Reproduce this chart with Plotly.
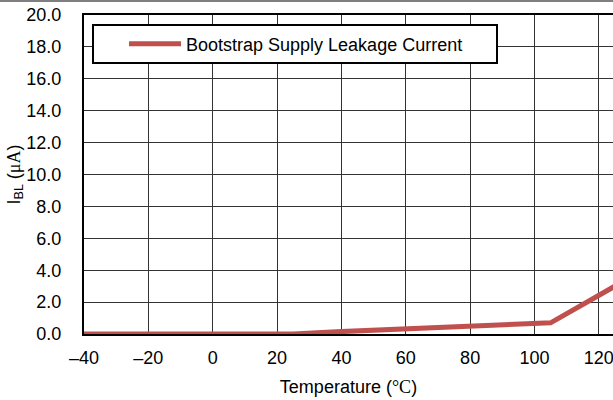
import plotly.graph_objects as go

temps = [-40, -20, 0, 25, 40, 60, 80, 105, 125]
leak_ua = [0.0, 0.0, 0.0, 0.0, 0.15, 0.33, 0.5, 0.7, 3.0]
x_ticks = [-40, -20, 0, 20, 40, 60, 80, 100, 120]
x_tick_text = ["\u201340", "\u201320", "0", "20", "40", "60", "80", "100", "120"]
y_ticks = [0, 2, 4, 6, 8, 10, 12, 14, 16, 18, 20]
y_tick_text = [f"{v:.1f}" for v in y_ticks]
series_name = "Bootstrap Supply Leakage Current"

W, H = 613, 400
ML, MR, MT, MB = 84, 0, 15, 66
pw = W - ML - MR
ph = H - MT - MB

def px_x(p):
    return (p - ML) / pw

def px_y(p):
    return 1 - (p - MT) / ph

fig = go.Figure()
fig.add_trace(go.Scatter(
    x=temps, y=leak_ua, mode="lines", name=series_name,
    line=dict(color="#C0504D", width=5), cliponaxis=True,
))

SANS = "Liberation Sans, Arial, sans-serif"
SERIF = "Liberation Serif, Times New Roman, serif"
font = dict(family=SANS, size=18, color="black")

fig.update_layout(
    width=W, height=H,
    margin=dict(l=ML, r=MR, t=MT, b=MB, autoexpand=False),
    paper_bgcolor="white", plot_bgcolor="white",
    font=font,
    showlegend=True,
    legend=dict(
        x=px_x(296), y=px_y(44), xanchor="center", yanchor="middle",
        bgcolor="rgba(0,0,0,0)", borderwidth=0,
        font=dict(family=SANS, size=18, color="black"),
        itemwidth=52,
    ),
    xaxis=dict(
        range=[-40, 124.4], tickvals=x_ticks, ticktext=x_tick_text,
        showgrid=True, gridcolor="#333333", gridwidth=1,
        showline=True, linecolor="black", linewidth=2, mirror=True,
        zeroline=False, ticks="", ticklabelstandoff=6, automargin=False,
        ticklabeloverflow="allow",
        title=dict(text=f"Temperature (<span style='font-family:{SERIF}'>\u00b0C</span>)",
                   font=dict(size=18), standoff=14),
        tickfont=dict(size=18),
    ),
    yaxis=dict(
        range=[0, 20], tickvals=y_ticks, ticktext=y_tick_text,
        showgrid=True, gridcolor="#333333", gridwidth=1,
        showline=True, linecolor="black", linewidth=2, mirror=False,
        zeroline=False, ticks="", ticklabelstandoff=17, automargin=False,
        title=dict(text=f"I<sub>BL</sub> (<span style='font-family:{SERIF}'>\u03bcA</span>)",
                   font=dict(size=18), standoff=1),
        tickfont=dict(size=18),
    ),
    shapes=[
        dict(type="rect", xref="paper", yref="paper",
             x0=px_x(93), x1=px_x(497), y0=px_y(63), y1=px_y(25),
             line=dict(color="black", width=2), fillcolor="white", layer="above"),
        dict(type="line", xref="paper", yref="paper",
             x0=px_x(0), x1=1, y0=px_y(1), y1=px_y(1),
             line=dict(color="black", width=1)),
    ],
)

fig.write_html(
    "out.html",
    config={"displayModeBar": False},
    post_script="document.body.style.margin='0';document.body.style.overflow='hidden';",
)
